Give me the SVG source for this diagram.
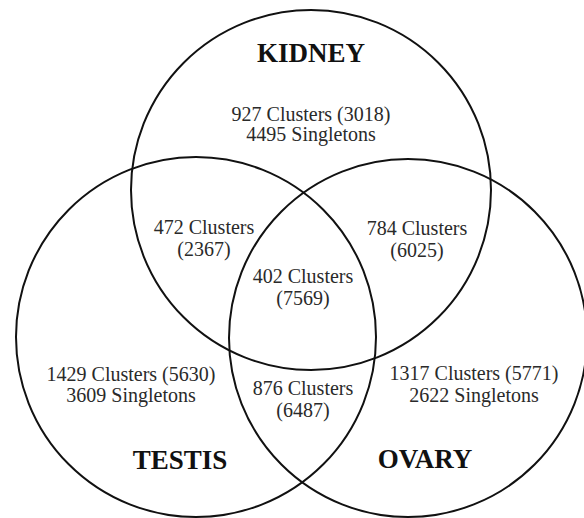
<svg xmlns="http://www.w3.org/2000/svg" width="584" height="518" viewBox="0 0 584 518">
<style>
.c{fill:none;stroke:#111;stroke-width:2}
.t{font-family:"Liberation Serif","Times New Roman",serif;font-size:20px;fill:#2a2a2a;text-anchor:middle}
.h{font-family:"Liberation Serif","Times New Roman",serif;font-size:27px;font-weight:bold;fill:#111;text-anchor:middle}
</style>
<rect width="584" height="518" fill="#fff"/>
<g id="kidney">
<circle class="c" cx="311" cy="190" r="180"/>
<text class="h" x="311" y="62">KIDNEY</text>
<text class="t" x="311" y="121">927 Clusters (3018)</text>
<text class="t" x="311" y="141">4495 Singletons</text>
</g>
<g id="testis">
<circle class="c" cx="196" cy="337" r="180"/>
<text class="h" x="180" y="469">TESTIS</text>
<text class="t" x="131" y="381">1429 Clusters (5630)</text>
<text class="t" x="131" y="402">3609 Singletons</text>
</g>
<g id="ovary">
<circle class="c" cx="408" cy="338" r="179"/>
<text class="h" x="425" y="468">OVARY</text>
<text class="t" x="474" y="380">1317 Clusters (5771)</text>
<text class="t" x="474" y="402">2622 Singletons</text>
</g>
<g id="kidney-testis">
<text class="t" x="204" y="234">472 Clusters</text>
<text class="t" x="204" y="256">(2367)</text>
</g>
<g id="kidney-ovary">
<text class="t" x="417" y="235">784 Clusters</text>
<text class="t" x="417" y="257">(6025)</text>
</g>
<g id="all">
<text class="t" x="303" y="283">402 Clusters</text>
<text class="t" x="303" y="305">(7569)</text>
</g>
<g id="testis-ovary">
<text class="t" x="303" y="395">876 Clusters</text>
<text class="t" x="303" y="417">(6487)</text>
</g>
<g id="connectors"></g>
</svg>
